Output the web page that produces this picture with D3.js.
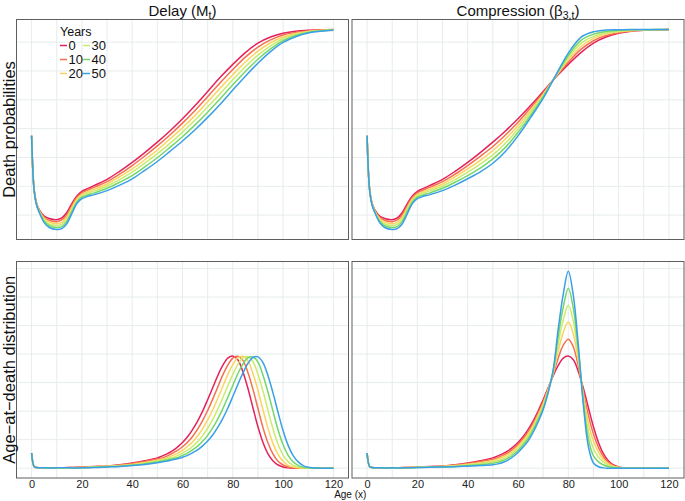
<!DOCTYPE html>
<html><head><meta charset="utf-8">
<script src="https://cdn.jsdelivr.net/npm/d3@7"></script>
<style>
body{margin:0;background:#fff}
svg{display:block;font-family:"Liberation Sans",Arial,Helvetica,sans-serif}
</style>
</head><body>
<svg id="chart" width="685" height="501"></svg>
<script>
// ---------------- data ----------------
const years = ["0","10","20","30","40","50"];
const colors = ["#E3215C","#F4704F","#FCD35F","#C8EC6E","#74D66B","#3A9FE6"];

// ages for the death-probability panels
const ageTop = [0,1,2,3,5,7,10,12,14,16,18,20,22,25,30,35,40,45,50,55,60,65,70,75,80,85,90,95,100,105,110,115,120];

// log death probabilities, Delay panel (one row per year 0..50)
const delayProb = [
 [-3.25,-5.11,-5.60,-5.81,-6.03,-6.12,-6.16,-6.10,-5.91,-5.60,-5.34,-5.18,-5.09,-4.97,-4.76,-4.48,-4.17,-3.83,-3.47,-3.08,-2.66,-2.20,-1.71,-1.22,-0.77,-0.36,-0.03,0.18,0.31,0.38,0.41,0.43,0.44],
 [-3.25,-5.11,-5.61,-5.83,-6.08,-6.18,-6.23,-6.17,-5.99,-5.67,-5.39,-5.23,-5.14,-5.03,-4.84,-4.58,-4.28,-3.95,-3.60,-3.22,-2.81,-2.37,-1.89,-1.41,-0.95,-0.52,-0.17,0.08,0.25,0.34,0.39,0.42,0.43],
 [-3.25,-5.12,-5.62,-5.85,-6.12,-6.24,-6.30,-6.25,-6.07,-5.74,-5.44,-5.28,-5.20,-5.10,-4.92,-4.67,-4.40,-4.08,-3.74,-3.36,-2.97,-2.54,-2.07,-1.59,-1.13,-0.69,-0.31,-0.02,0.18,0.30,0.37,0.41,0.43],
 [-3.25,-5.12,-5.64,-5.86,-6.17,-6.31,-6.36,-6.32,-6.14,-5.81,-5.50,-5.33,-5.25,-5.16,-4.99,-4.77,-4.51,-4.20,-3.87,-3.51,-3.12,-2.70,-2.25,-1.78,-1.30,-0.85,-0.45,-0.13,0.12,0.27,0.36,0.40,0.42],
 [-3.25,-5.13,-5.65,-5.88,-6.21,-6.37,-6.43,-6.40,-6.22,-5.88,-5.55,-5.38,-5.31,-5.23,-5.07,-4.86,-4.63,-4.33,-4.01,-3.65,-3.28,-2.87,-2.43,-1.96,-1.48,-1.02,-0.59,-0.23,0.05,0.23,0.34,0.39,0.42],
 [-3.25,-5.13,-5.66,-5.90,-6.26,-6.43,-6.50,-6.47,-6.30,-5.95,-5.60,-5.43,-5.36,-5.29,-5.15,-4.96,-4.74,-4.45,-4.14,-3.79,-3.43,-3.04,-2.61,-2.15,-1.66,-1.18,-0.73,-0.33,-0.01,0.19,0.32,0.38,0.41]
];

// log death probabilities, Compression panel
const compProb = [
 [-3.25,-5.11,-5.60,-5.81,-6.03,-6.12,-6.16,-6.10,-5.91,-5.60,-5.34,-5.18,-5.09,-4.97,-4.76,-4.48,-4.17,-3.83,-3.47,-3.08,-2.66,-2.20,-1.71,-1.22,-0.77,-0.36,-0.03,0.18,0.31,0.38,0.41,0.43,0.44],
 [-3.25,-5.11,-5.61,-5.83,-6.08,-6.18,-6.23,-6.17,-5.99,-5.67,-5.39,-5.23,-5.14,-5.03,-4.84,-4.58,-4.28,-3.96,-3.62,-3.22,-2.78,-2.28,-1.76,-1.21,-0.69,-0.25,0.05,0.23,0.33,0.39,0.42,0.43,0.44],
 [-3.25,-5.12,-5.62,-5.85,-6.12,-6.24,-6.30,-6.25,-6.07,-5.74,-5.44,-5.28,-5.20,-5.10,-4.92,-4.67,-4.40,-4.10,-3.76,-3.36,-2.90,-2.37,-1.81,-1.19,-0.61,-0.15,0.13,0.28,0.36,0.40,0.42,0.43,0.44],
 [-3.25,-5.12,-5.64,-5.86,-6.17,-6.31,-6.36,-6.32,-6.14,-5.81,-5.50,-5.33,-5.25,-5.16,-4.99,-4.77,-4.51,-4.23,-3.91,-3.51,-3.01,-2.45,-1.85,-1.18,-0.54,-0.04,0.20,0.32,0.38,0.42,0.43,0.44,0.44],
 [-3.25,-5.13,-5.65,-5.88,-6.21,-6.37,-6.43,-6.40,-6.22,-5.88,-5.55,-5.38,-5.31,-5.23,-5.07,-4.86,-4.63,-4.37,-4.05,-3.65,-3.13,-2.54,-1.90,-1.16,-0.46,0.06,0.28,0.37,0.41,0.43,0.43,0.44,0.44],
 [-3.25,-5.13,-5.66,-5.90,-6.26,-6.43,-6.50,-6.47,-6.30,-5.95,-5.60,-5.43,-5.36,-5.29,-5.15,-4.96,-4.74,-4.50,-4.20,-3.79,-3.25,-2.62,-1.95,-1.15,-0.38,0.17,0.36,0.42,0.43,0.44,0.44,0.44,0.44]
];

// ages for the age-at-death panels
const ageDens = [0,1,2,5,10,15,20,25,30,35,40,45,
 50,52,54,56,58,60,62,64,66,68,70,72,74,76,78,80,82,84,86,88,90,92,94,96,98,100,102,104,106,108,110,115,120];

// age-at-death densities (x100), Delay panel
const delayDens = [
 [0.53,0.06,0.02,0.01,0.01,0.02,0.04,0.06,0.08,0.12,0.18,0.26,
  0.36,0.43,0.51,0.61,0.74,0.90,1.10,1.35,1.65,2.00,2.40,2.82,3.24,3.60,3.86,3.93,3.80,3.38,2.80,2.12,1.45,0.90,0.50,0.25,0.11,0.04,0.01,0,0,0,0,0,0],
 [0.53,0.06,0.02,0.01,0.01,0.02,0.03,0.05,0.07,0.11,0.16,0.23,
  0.32,0.36,0.43,0.52,0.62,0.75,0.91,1.11,1.37,1.67,2.02,2.42,2.84,3.26,3.61,3.86,3.92,3.78,3.35,2.77,2.09,1.42,0.88,0.49,0.24,0.11,0.04,0.01,0,0,0,0,0],
 [0.53,0.06,0.02,0.01,0.01,0.01,0.02,0.05,0.07,0.09,0.13,0.20,
  0.28,0.32,0.37,0.44,0.52,0.62,0.76,0.92,1.13,1.38,1.69,2.04,2.44,2.86,3.28,3.63,3.87,3.92,3.76,3.32,2.73,2.05,1.40,0.86,0.48,0.24,0.10,0.04,0.01,0,0,0,0],
 [0.53,0.06,0.02,0.01,0.01,0.01,0.02,0.04,0.06,0.08,0.11,0.17,
  0.25,0.29,0.33,0.37,0.44,0.53,0.63,0.76,0.93,1.14,1.40,1.70,2.06,2.46,2.88,3.29,3.64,3.87,3.91,3.74,3.29,2.70,2.02,1.37,0.84,0.46,0.23,0.10,0.04,0.01,0,0,0],
 [0.53,0.06,0.02,0.01,0.01,0.01,0.01,0.03,0.05,0.07,0.10,0.15,
  0.22,0.25,0.29,0.33,0.37,0.45,0.53,0.64,0.77,0.94,1.15,1.41,1.72,2.08,2.48,2.90,3.31,3.65,3.87,3.90,3.72,3.26,2.66,1.99,1.34,0.82,0.45,0.22,0.10,0.03,0.01,0,0],
 [0.53,0.06,0.02,0.01,0.01,0.01,0.01,0.02,0.04,0.06,0.09,0.13,
  0.19,0.22,0.25,0.29,0.33,0.38,0.45,0.54,0.64,0.78,0.95,1.16,1.43,1.74,2.10,2.51,2.93,3.33,3.67,3.88,3.90,3.70,3.24,2.63,1.95,1.31,0.80,0.44,0.22,0.09,0.03,0,0]
];

// age-at-death densities (x100), Compression panel
const compDens = [
 [0.53,0.06,0.02,0.01,0.01,0.02,0.04,0.06,0.08,0.12,0.18,0.26,
  0.36,0.43,0.51,0.61,0.74,0.90,1.10,1.35,1.65,2.00,2.40,2.82,3.24,3.60,3.86,3.93,3.80,3.38,2.80,2.12,1.45,0.90,0.50,0.25,0.11,0.04,0.01,0,0,0,0,0,0],
 [0.53,0.06,0.02,0.01,0.01,0.02,0.04,0.05,0.07,0.11,0.16,0.23,
  0.31,0.37,0.45,0.54,0.67,0.83,1.03,1.27,1.57,1.92,2.33,2.79,3.28,3.86,4.31,4.52,4.25,3.56,2.68,1.85,1.20,0.73,0.40,0.20,0.09,0.03,0.01,0,0,0,0,0,0],
 [0.53,0.06,0.02,0.01,0.01,0.02,0.03,0.05,0.06,0.09,0.14,0.19,
  0.26,0.32,0.39,0.48,0.60,0.76,0.96,1.19,1.49,1.85,2.26,2.75,3.32,4.11,4.76,5.12,4.70,3.75,2.56,1.57,0.94,0.56,0.30,0.15,0.07,0.02,0,0,0,0,0,0,0],
 [0.53,0.06,0.02,0.01,0.01,0.01,0.03,0.04,0.06,0.08,0.11,0.16,
  0.22,0.26,0.32,0.41,0.54,0.69,0.88,1.11,1.41,1.77,2.19,2.72,3.37,4.37,5.20,5.71,5.15,3.93,2.44,1.30,0.69,0.39,0.21,0.10,0.04,0.02,0,0,0,0,0,0,0],
 [0.53,0.06,0.02,0.01,0.01,0.01,0.02,0.04,0.05,0.06,0.09,0.12,
  0.17,0.21,0.26,0.35,0.47,0.62,0.81,1.03,1.33,1.70,2.12,2.68,3.41,4.62,5.65,6.31,5.60,4.12,2.32,1.02,0.43,0.22,0.11,0.05,0.02,0.01,0,0,0,0,0,0,0],
 [0.53,0.06,0.02,0.01,0.01,0.01,0.02,0.03,0.04,0.05,0.07,0.09,
  0.12,0.15,0.20,0.28,0.40,0.55,0.74,0.95,1.25,1.62,2.05,2.65,3.45,4.88,6.10,6.90,6.05,4.30,2.20,0.75,0.18,0.05,0.01,0,0,0,0,0,0,0,0,0,0]
];

const xTicks = [0,20,40,60,80,100,120];

// ---------------- drawing ----------------
const svg = d3.select("#chart");
const W = 685, H = 501;
svg.append("rect").attr("width",W).attr("height",H).attr("fill","#fff");

const cols = [{x0:16.5, x1:348.5},{x0:352, x1:684}];
const rowsL = [{y0:19.5, y1:239.5},{y0:261.5, y1:478}];

function expanded(ext){ const p=(ext[1]-ext[0])*0.05; return [ext[0]-p, ext[1]+p]; }

const topExt = d3.extent(delayProb.concat(compProb).flat());
const botExt = d3.extent(delayDens.concat(compDens).flat());
const yDomains = [expanded(topExt), expanded(botExt)];
const xDomain = expanded([0,120]);

const panels = [
  {c:0,r:0,ages:ageTop,data:delayProb},
  {c:1,r:0,ages:ageTop,data:compProb},
  {c:0,r:1,ages:ageDens,data:delayDens},
  {c:1,r:1,ages:ageDens,data:compDens}
];

const gridColor = "#e4eaea";

panels.forEach(p=>{
  const C = cols[p.c], R = rowsL[p.r];
  const x = d3.scaleLinear().domain(xDomain).range([C.x0, C.x1]);
  const y = d3.scaleLinear().domain(yDomains[p.r]).range([R.y1, R.y0]);
  const g = svg.append("g");
  g.selectAll("line.vg").data(d3.range(0,121,10)).join("line")
    .attr("x1",d=>x(d)).attr("x2",d=>x(d)).attr("y1",R.y0).attr("y2",R.y1)
    .attr("stroke",gridColor).attr("stroke-width",0.9);
  const yTicks = d3.range(Math.ceil(yDomains[p.r][0]), Math.floor(yDomains[p.r][1])+1);
  g.selectAll("line.hg").data(yTicks).join("line")
    .attr("x1",C.x0).attr("x2",C.x1).attr("y1",d=>y(d)).attr("y2",d=>y(d))
    .attr("stroke",gridColor).attr("stroke-width",0.9);
  const line = d3.line().x((d,i)=>x(p.ages[i])).y(d=>y(d)).curve(d3.curveCatmullRom.alpha(0.5));
  p.data.forEach((row,k)=>{
    g.append("path").attr("d",line(row)).attr("fill","none")
      .attr("stroke",colors[k]).attr("stroke-width",1.5).attr("stroke-linejoin","round");
  });
  g.append("rect").attr("x",C.x0).attr("y",R.y0).attr("width",C.x1-C.x0).attr("height",R.y1-R.y0)
    .attr("fill","none").attr("stroke","#5e5e5e").attr("stroke-width",1);
  if(p.r===1){
    const ax = d3.axisBottom(x).tickValues(xTicks).tickSize(0).tickPadding(2.5);
    const ag = svg.append("g").attr("transform",`translate(0,${R.y1})`).call(ax);
    ag.select(".domain").remove();
    ag.selectAll("text").attr("font-size",11).attr("fill","#222")
      .attr("font-family",'"Liberation Sans",Arial,sans-serif');
  }
});

// column titles
function title(cx, main, sub){
  const t = svg.append("text").attr("x",cx).attr("y",15.5).attr("text-anchor","middle")
    .attr("font-size",15).attr("fill","#111");
  t.append("tspan").text(main);
  t.append("tspan").attr("dy",3.5).attr("font-size",10.5).text(sub);
  t.append("tspan").attr("dy",-3.5).text(")");
}
title((cols[0].x0+cols[0].x1)/2, "Delay (M", "t");
title((cols[1].x0+cols[1].x1)/2, "Compression (\u03B2", "3,t");

// row labels
function rowLabel(cy, txt){
  svg.append("text").attr("transform",`translate(14.5,${cy}) rotate(-90)`)
    .attr("text-anchor","middle").attr("font-size",16.5).attr("fill","#111").text(txt);
}
rowLabel((rowsL[0].y0+rowsL[0].y1)/2, "Death probabilities");
rowLabel((rowsL[1].y0+rowsL[1].y1)/2, "Age\u2212at\u2212death distribution");

// x axis title
svg.append("text").attr("x",(cols[0].x0+cols[1].x1)/2).attr("y",498)
  .attr("text-anchor","middle").attr("font-size",10).attr("fill","#111").text("Age (x)");

// legend
const lg = svg.append("g");
lg.append("text").attr("x",60).attr("y",36).attr("font-size",12.5)
  .attr("fill","#111").text("Years");
years.forEach((yr,i)=>{
  const col = Math.floor(i/3), row = i%3;
  const kx = col===0 ? 60 : 83, ly = 45.5 + row*14;
  lg.append("line").attr("x1",kx).attr("x2",kx+7).attr("y1",ly).attr("y2",ly)
    .attr("stroke",colors[i]).attr("stroke-width",1.5);
  lg.append("text").attr("x",kx+8.5).attr("y",ly+4.5).attr("font-size",13)
    .attr("fill","#111").text(yr);
});
</script>
</body></html>
